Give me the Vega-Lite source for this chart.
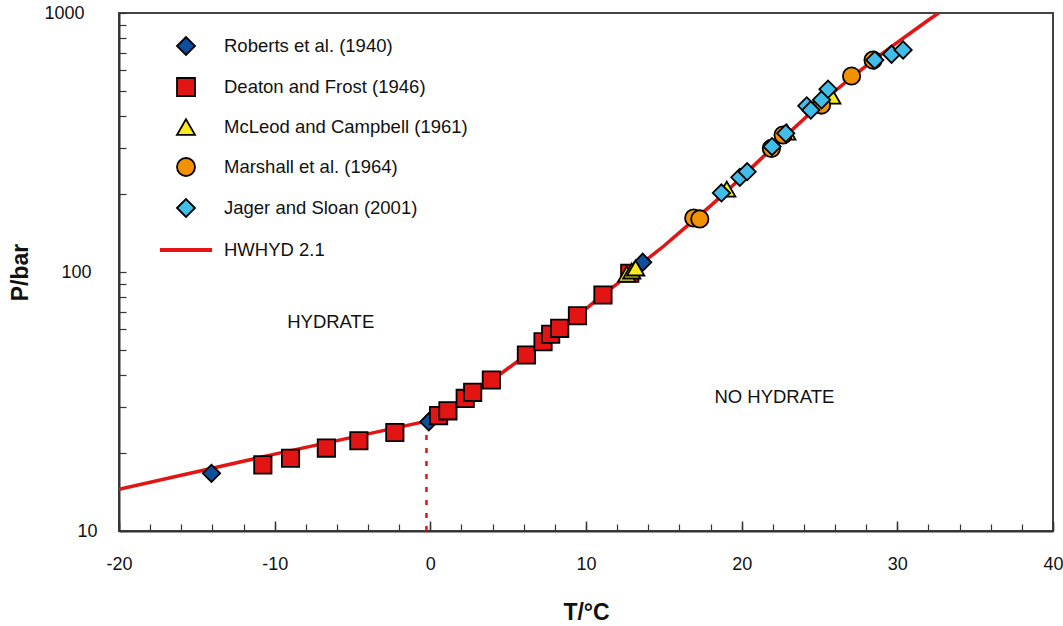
{
  "$schema": "https://vega.github.io/schema/vega-lite/v6.json",
  "width": 934,
  "height": 518,
  "autosize": "none",
  "padding": {"left": 119, "top": 13, "right": 10, "bottom": 95},
  "config": {
    "font": "Liberation Sans",
    "view": {"stroke": "#444", "strokeWidth": 2},
    "axis": {"grid": false},
    "legend": {
      "title": null,
      "orient": "none",
      "legendX": 57,
      "legendY": 23,
      "padding": 0,
      "symbolOffset": 0,
      "symbolSize": 324,
      "symbolStrokeWidth": 1.8,
      "labelFontSize": 18.5,
      "labelColor": "#111",
      "labelOffset": 28,
      "labelLimit": 400,
      "rowPadding": 15
    }
  },
  "resolve": {"axis": {"x": "independent"}},
  "datasets": {
    "curve": [
      {"T": -20, "P": 14.5}, {"T": -10, "P": 19.8}, {"T": -0.3, "P": 26.5},
      {"T": 1, "P": 28.6}, {"T": 2, "P": 31.5}, {"T": 3, "P": 34.8}, {"T": 4, "P": 38.3},
      {"T": 5, "P": 42.5}, {"T": 6, "P": 47}, {"T": 7, "P": 52}, {"T": 8, "P": 58.5},
      {"T": 9, "P": 65}, {"T": 10, "P": 72}, {"T": 11, "P": 81}, {"T": 12, "P": 90},
      {"T": 13, "P": 101}, {"T": 14, "P": 113}, {"T": 15, "P": 126}, {"T": 16, "P": 142},
      {"T": 17, "P": 160}, {"T": 18, "P": 180}, {"T": 19, "P": 204}, {"T": 20, "P": 232},
      {"T": 21, "P": 265}, {"T": 22, "P": 302}, {"T": 23, "P": 343}, {"T": 24, "P": 390},
      {"T": 25, "P": 443}, {"T": 26, "P": 500}, {"T": 27, "P": 560}, {"T": 28, "P": 625},
      {"T": 29, "P": 695}, {"T": 30, "P": 770}, {"T": 31, "P": 850}, {"T": 32, "P": 940},
      {"T": 32.65, "P": 1000}
    ],
    "dotted": [{"T": -0.25, "P": 10}, {"T": -0.25, "P": 24}],
    "labels": [
      {"T": -6.4, "P": 64, "text": "HYDRATE"},
      {"T": 22.1, "P": 32.9, "text": "NO HYDRATE"}
    ],
    "points": [
      {"src": "Roberts et al. (1940)", "T": -14.06, "P": 16.7},
      {"src": "Roberts et al. (1940)", "T": -0.1, "P": 26.4},
      {"src": "Roberts et al. (1940)", "T": 13.64, "P": 109},
      {"src": "Deaton and Frost (1946)", "T": -10.76, "P": 18.0},
      {"src": "Deaton and Frost (1946)", "T": -8.98, "P": 19.1},
      {"src": "Deaton and Frost (1946)", "T": -6.68, "P": 20.9},
      {"src": "Deaton and Frost (1946)", "T": -4.59, "P": 22.3},
      {"src": "Deaton and Frost (1946)", "T": -2.28, "P": 24.0},
      {"src": "Deaton and Frost (1946)", "T": 0.53, "P": 27.9},
      {"src": "Deaton and Frost (1946)", "T": 1.13, "P": 29.1},
      {"src": "Deaton and Frost (1946)", "T": 2.24, "P": 32.5},
      {"src": "Deaton and Frost (1946)", "T": 2.72, "P": 34.3},
      {"src": "Deaton and Frost (1946)", "T": 3.92, "P": 38.3},
      {"src": "Deaton and Frost (1946)", "T": 6.17, "P": 47.8},
      {"src": "Deaton and Frost (1946)", "T": 7.24, "P": 53.8},
      {"src": "Deaton and Frost (1946)", "T": 7.73, "P": 57.5},
      {"src": "Deaton and Frost (1946)", "T": 8.31, "P": 60.6},
      {"src": "Deaton and Frost (1946)", "T": 9.45, "P": 67.8},
      {"src": "Deaton and Frost (1946)", "T": 11.09, "P": 81.5},
      {"src": "Deaton and Frost (1946)", "T": 12.81, "P": 98.9},
      {"src": "McLeod and Campbell (1961)", "T": 12.62, "P": 98.2},
      {"src": "McLeod and Campbell (1961)", "T": 12.94, "P": 100.9},
      {"src": "McLeod and Campbell (1961)", "T": 13.19, "P": 103.6},
      {"src": "McLeod and Campbell (1961)", "T": 19.04, "P": 209},
      {"src": "McLeod and Campbell (1961)", "T": 22.9, "P": 347},
      {"src": "McLeod and Campbell (1961)", "T": 25.79, "P": 478},
      {"src": "Marshall et al. (1964)", "T": 16.92, "P": 161.6},
      {"src": "Marshall et al. (1964)", "T": 17.31, "P": 160.3},
      {"src": "Marshall et al. (1964)", "T": 21.91, "P": 300},
      {"src": "Marshall et al. (1964)", "T": 22.66, "P": 338},
      {"src": "Marshall et al. (1964)", "T": 25.13, "P": 441},
      {"src": "Marshall et al. (1964)", "T": 27.06, "P": 571},
      {"src": "Marshall et al. (1964)", "T": 28.44, "P": 658},
      {"src": "Jager and Sloan (2001)", "T": 18.7, "P": 202},
      {"src": "Jager and Sloan (2001)", "T": 19.88, "P": 232},
      {"src": "Jager and Sloan (2001)", "T": 20.35, "P": 244},
      {"src": "Jager and Sloan (2001)", "T": 21.95, "P": 305},
      {"src": "Jager and Sloan (2001)", "T": 22.83, "P": 343},
      {"src": "Jager and Sloan (2001)", "T": 24.18, "P": 438},
      {"src": "Jager and Sloan (2001)", "T": 24.44, "P": 422},
      {"src": "Jager and Sloan (2001)", "T": 25.13, "P": 462},
      {"src": "Jager and Sloan (2001)", "T": 25.55, "P": 508},
      {"src": "Jager and Sloan (2001)", "T": 28.55, "P": 658},
      {"src": "Jager and Sloan (2001)", "T": 29.63, "P": 693},
      {"src": "Jager and Sloan (2001)", "T": 30.37, "P": 720}
    ]
  },
  "layer": [
    {
      "data": {"name": "curve"},
      "mark": {"type": "line", "color": "#e31414", "strokeWidth": 3.5, "clip": true},
      "encoding": {
        "x": {
          "field": "T", "type": "quantitative",
          "scale": {"domain": [-20, 40], "nice": false, "zero": false},
          "axis": {
            "orient": "bottom",
            "values": [-20,-18,-16,-14,-12,-10,-8,-6,-4,-2,0,2,4,6,8,10,12,14,16,18,20,22,24,26,28,30,32,34,36,38,40],
            "tickCount": 100,
            "labelExpr": "datum.value % 10 === 0 ? toString(datum.value) : ''",
            "labelOverlap": false,
            "labelFlush": false,
            "tickSize": -7,
            "tickColor": "#333",
            "tickWidth": 1.2,
            "domainColor": "#333",
            "domainWidth": 2,
            "labelFontSize": 18,
            "labelColor": "#111",
            "labelPadding": 31,
            "title": "T/°C",
            "titleFontSize": 23,
            "titleFontWeight": "bold",
            "titleColor": "#111",
            "titlePadding": 28
          }
        },
        "y": {
          "field": "P", "type": "quantitative",
          "scale": {"type": "log", "domain": [10, 1000], "nice": false},
          "axis": {
            "values": [10,20,30,40,50,60,70,80,90,100,200,300,400,500,600,700,800,900,1000],
            "tickCount": 100,
            "labelExpr": "(datum.value === 10 || datum.value === 100 || datum.value === 1000) ? toString(datum.value) : ''",
            "labelOverlap": false,
            "labelFlush": false,
            "tickSize": -7,
            "tickColor": "#333",
            "tickWidth": 1.2,
            "domainColor": "#333",
            "domainWidth": 2,
            "labelFontSize": 18,
            "labelColor": "#111",
            "labelPadding": {"condition": [{"test": "datum.value === 1000", "value": 42}, {"test": "datum.value === 100", "value": 35}], "value": 29},
            "title": "P/bar",
            "titleFontSize": 23,
            "titleFontWeight": "bold",
            "titleColor": "#111",
            "titlePadding": 11
          }
        }
      }
    },
    {
      "data": {"name": "dotted"},
      "mark": {"type": "line", "color": "#e31414", "strokeWidth": 2.5, "strokeDash": [5, 8]},
      "encoding": {
        "x": {
          "field": "T", "type": "quantitative",
          "axis": {
            "orient": "bottom",
            "values": [-20, -10, 0, 10, 20, 30, 40],
            "tickCount": 100,
            "tickSize": -10,
            "tickColor": "#333",
            "tickWidth": 1.5,
            "labels": false,
            "domain": false,
            "title": null
          }
        },
        "y": {"field": "P", "type": "quantitative"}
      }
    },
    {
      "data": {"name": "labels"},
      "mark": {"type": "text", "fontSize": 18.5, "color": "#111", "align": "center", "baseline": "middle"},
      "encoding": {
        "x": {"field": "T", "type": "quantitative", "axis": null},
        "y": {"field": "P", "type": "quantitative"},
        "text": {"field": "text"}
      }
    },
    {
      "data": {"name": "points"},
      "mark": {"type": "point", "filled": true, "opacity": 1, "strokeWidth": 1.8, "size": 300},
      "encoding": {
        "x": {"field": "T", "type": "quantitative", "axis": null},
        "y": {"field": "P", "type": "quantitative"},
        "fill": {
          "field": "src", "type": "nominal",
          "scale": {
            "domain": ["Roberts et al. (1940)", "Deaton and Frost (1946)", "McLeod and Campbell (1961)", "Marshall et al. (1964)", "Jager and Sloan (2001)", "HWHYD 2.1"],
            "range": ["#0d4f9e", "#e31414", "#fbea1b", "#f39200", "#41bde9", "#e31414"]
          }
        },
        "stroke": {
          "field": "src", "type": "nominal",
          "scale": {
            "domain": ["Roberts et al. (1940)", "Deaton and Frost (1946)", "McLeod and Campbell (1961)", "Marshall et al. (1964)", "Jager and Sloan (2001)", "HWHYD 2.1"],
            "range": ["#000000", "#000000", "#000000", "#000000", "#000000", "#e31414"]
          }
        },
        "shape": {
          "field": "src", "type": "nominal",
          "scale": {
            "domain": ["Roberts et al. (1940)", "Deaton and Frost (1946)", "McLeod and Campbell (1961)", "Marshall et al. (1964)", "Jager and Sloan (2001)", "HWHYD 2.1"],
            "range": ["diamond", "square", "triangle-up", "circle", "diamond", "M-2.8,-0.12H2.8V0.12H-2.8ZM0,-1.1M0,1.1"]
          }
        }
      }
    }
  ]
}
